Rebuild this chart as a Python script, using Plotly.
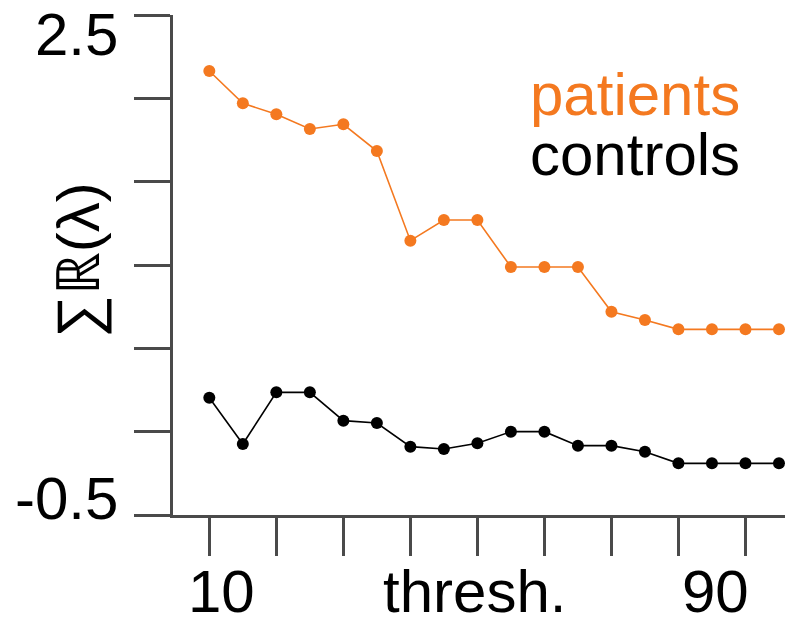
import plotly.graph_objects as go

thresholds = [10, 15, 20, 25, 30, 35, 40, 45, 50, 55, 60, 65, 70, 75, 80, 85, 90, 95]
patients = [2.164, 1.970, 1.904, 1.816, 1.844, 1.684, 1.146, 1.270, 1.270,
            0.988, 0.988, 0.988, 0.720, 0.670, 0.614, 0.614, 0.614, 0.614]
controls = [0.204, -0.074, 0.236, 0.236, 0.066, 0.052, -0.090, -0.104, -0.070,
            0.000, 0.000, -0.084, -0.084, -0.120, -0.190, -0.190, -0.190, -0.190]
y_ticks = [-0.5, 0, 0.5, 1, 1.5, 2, 2.5]
x_ticks = [10, 20, 30, 40, 50, 60, 70, 80, 90]

ORANGE = "#F47920"
AXIS = "#4a4a4a"
FONT = "Liberation Sans, Arial, sans-serif"

fig = go.Figure()
fig.add_trace(go.Scatter(x=thresholds, y=patients, mode="lines+markers",
                         line=dict(color=ORANGE, width=1.6),
                         marker=dict(color=ORANGE, size=12), name="patients"))
fig.add_trace(go.Scatter(x=thresholds, y=controls, mode="lines+markers",
                         line=dict(color="black", width=1.6),
                         marker=dict(color="black", size=12), name="controls"))

fig.update_layout(
    width=785, height=619,
    margin=dict(l=173, r=0, t=15, b=104),
    plot_bgcolor="white", paper_bgcolor="white",
    showlegend=False,
    font=dict(family=FONT, size=60, color="black"),
)
fig.update_xaxes(range=[4.58, 95.9], showgrid=False, zeroline=False,
                 showline=True, linecolor=AXIS, linewidth=2.7,
                 tickmode="array", tickvals=x_ticks, showticklabels=False,
                 ticks="outside", ticklen=38, tickwidth=2.5, tickcolor=AXIS)
fig.update_yaxes(range=[-0.5, 2.5], showgrid=False, zeroline=False,
                 showline=True, linecolor=AXIS, linewidth=2.7,
                 tickmode="array", tickvals=y_ticks, showticklabels=False,
                 ticks="outside", ticklen=36, tickwidth=2.5, tickcolor=AXIS)

# y tick labels
fig.add_annotation(text="2.5", xref="paper", yref="y", x=0, y=2.5,
                   xanchor="right", yanchor="middle", xshift=-53, yshift=-19.5,
                   showarrow=False, font=dict(size=60, family=FONT))
fig.add_annotation(text="-0.5", xref="paper", yref="y", x=0, y=-0.5,
                   xanchor="right", yanchor="middle", xshift=-53, yshift=16.5,
                   showarrow=False, font=dict(size=60, family=FONT))
# x labels
fig.add_annotation(text="10", xref="x", yref="paper", x=11.75, y=0,
                   xanchor="center", yanchor="middle", yshift=-76.5,
                   showarrow=False, font=dict(size=60, family=FONT))
fig.add_annotation(text="thresh.", xref="x", yref="paper", x=49.5, y=0,
                   xanchor="center", yanchor="middle", yshift=-76.5,
                   showarrow=False, font=dict(size=60, family=FONT))
fig.add_annotation(text="90", xref="x", yref="paper", x=85.5, y=0,
                   xanchor="center", yanchor="middle", yshift=-76.5,
                   showarrow=False, font=dict(size=60, family=FONT))
# y axis title
fig.add_annotation(text="∑ℝ(λ)", xref="paper", yref="paper", x=0, y=0.5,
                   xanchor="center", yanchor="middle", xshift=-95, yshift=5,
                   textangle=-90, showarrow=False, font=dict(size=60, family=FONT))
# legend texts
fig.add_annotation(text="patients", xref="paper", yref="paper", x=1, y=1,
                   xanchor="right", yanchor="middle", xshift=-43, yshift=-79.5,
                   showarrow=False, font=dict(size=60, family=FONT, color=ORANGE))
fig.add_annotation(text="controls", xref="paper", yref="paper", x=1, y=1,
                   xanchor="right", yanchor="middle", xshift=-43, yshift=-139.5,
                   showarrow=False, font=dict(size=60, family=FONT, color="black"))

fig.write_html("out.html")
